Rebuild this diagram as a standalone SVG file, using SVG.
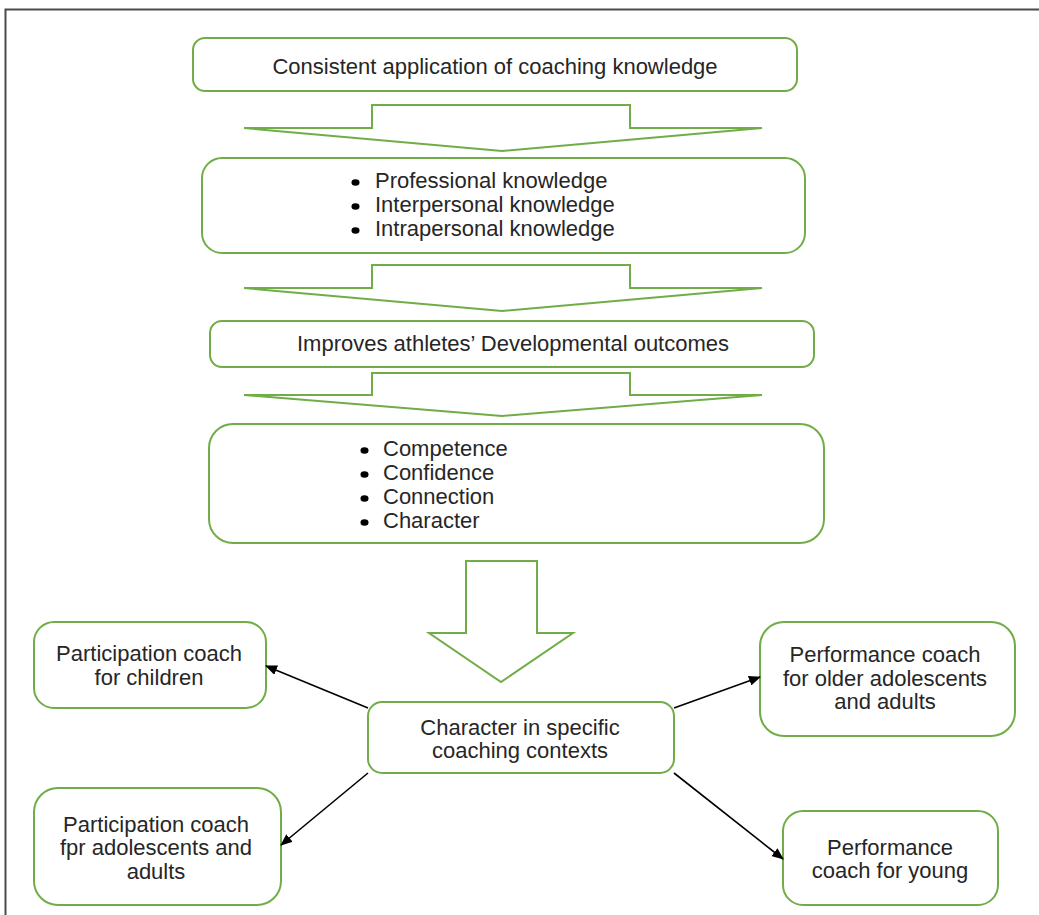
<svg xmlns="http://www.w3.org/2000/svg" width="1039" height="915" viewBox="0 0 1039 915">
<defs>
<style>
.box{fill:#fff;stroke:#70AD47;stroke-width:2}
.blk{fill:#fff;stroke:#70AD47;stroke-width:2;stroke-linejoin:miter}
.t{font-family:"Liberation Sans",Arial,sans-serif;font-size:22px;fill:#262626}
.c{text-anchor:middle}
.con{stroke:#000;stroke-width:1.6;fill:none;marker-end:url(#ah)}
.dot{fill:#000}
</style>
<marker id="ah" viewBox="0 0 12 10" refX="11" refY="5" markerWidth="12" markerHeight="10" markerUnits="userSpaceOnUse" orient="auto">
<path d="M0,0 L12,5 L0,10 Z" fill="#000"/>
</marker>
</defs>
<rect width="1039" height="915" fill="#fff"/>
<path d="M5.5,915 V9.5 H1039" fill="none" stroke="#4a4a4a" stroke-width="2"/>

<g id="n1">
<rect class="box" x="193" y="38" width="604" height="53" rx="12"/>
<text class="t c" x="495" y="74">Consistent application of coaching knowledge</text>
</g>
<g id="a1"><path class="blk" d="M372,105 H630 V128 H762 L502,151 L244,128 H372 Z"/></g>

<g id="n2">
<rect class="box" x="202" y="158" width="603" height="95" rx="20"/>
<ellipse class="dot" cx="355.5" cy="182.5" rx="4" ry="3.3"/>
<ellipse class="dot" cx="355.5" cy="206.5" rx="4" ry="3.3"/>
<ellipse class="dot" cx="355.5" cy="230.5" rx="4" ry="3.3"/>
<text class="t" x="375" y="188">Professional knowledge</text>
<text class="t" x="375" y="212">Interpersonal knowledge</text>
<text class="t" x="375" y="236">Intrapersonal knowledge</text>
</g>
<g id="a2"><path class="blk" d="M372,265 H630 V288 H762 L502,311 L244,288 H372 Z"/></g>

<g id="n3">
<rect class="box" x="210" y="321" width="604" height="46" rx="12"/>
<text class="t c" x="513" y="351">Improves athletes’ Developmental outcomes</text>
</g>
<g id="a3"><path class="blk" d="M372,373 H630 V395 H762 L502,416 L244,395 H372 Z"/></g>

<g id="n4">
<rect class="box" x="209" y="424" width="615" height="119" rx="24"/>
<ellipse class="dot" cx="364.5" cy="450.5" rx="4" ry="3.3"/>
<ellipse class="dot" cx="364.5" cy="474.5" rx="4" ry="3.3"/>
<ellipse class="dot" cx="364.5" cy="498.5" rx="4" ry="3.3"/>
<ellipse class="dot" cx="364.5" cy="522.5" rx="4" ry="3.3"/>
<text class="t" x="383" y="456">Competence</text>
<text class="t" x="383" y="480">Confidence</text>
<text class="t" x="383" y="504">Connection</text>
<text class="t" x="383" y="528">Character</text>
</g>
<g id="a4"><path class="blk" d="M466,561 H537 V633 H573 L501,682 L429,633 H466 Z"/></g>

<g id="n5">
<rect class="box" x="368" y="702" width="306" height="71" rx="14"/>
<text class="t c" x="520" y="735">Character in specific</text>
<text class="t c" x="520" y="758">coaching contexts</text>
</g>

<g id="n6">
<rect class="box" x="34" y="622" width="232" height="86" rx="20"/>
<text class="t c" x="149" y="661">Participation coach</text>
<text class="t c" x="149" y="685">for children</text>
</g>

<g id="n7">
<rect class="box" x="34" y="788" width="247" height="117" rx="24"/>
<text class="t c" x="156" y="832">Participation coach</text>
<text class="t c" x="156" y="855">fpr adolescents and</text>
<text class="t c" x="156" y="879">adults</text>
</g>

<g id="n8">
<rect class="box" x="760" y="622" width="255" height="114" rx="24"/>
<text class="t c" x="885" y="662">Performance coach</text>
<text class="t c" x="885" y="686">for older adolescents</text>
<text class="t c" x="885" y="709">and adults</text>
</g>

<g id="n9">
<rect class="box" x="783" y="811" width="215" height="94" rx="20"/>
<text class="t c" x="890" y="855">Performance</text>
<text class="t c" x="890" y="878">coach for young</text>
</g>

<g id="connectors">
<line class="con" x1="368" y1="708" x2="266" y2="666"/>
<line class="con" x1="368" y1="773" x2="281" y2="845"/>
<line class="con" x1="674" y1="708" x2="760" y2="677"/>
<line class="con" x1="674" y1="773" x2="783" y2="859"/>
</g>
</svg>
